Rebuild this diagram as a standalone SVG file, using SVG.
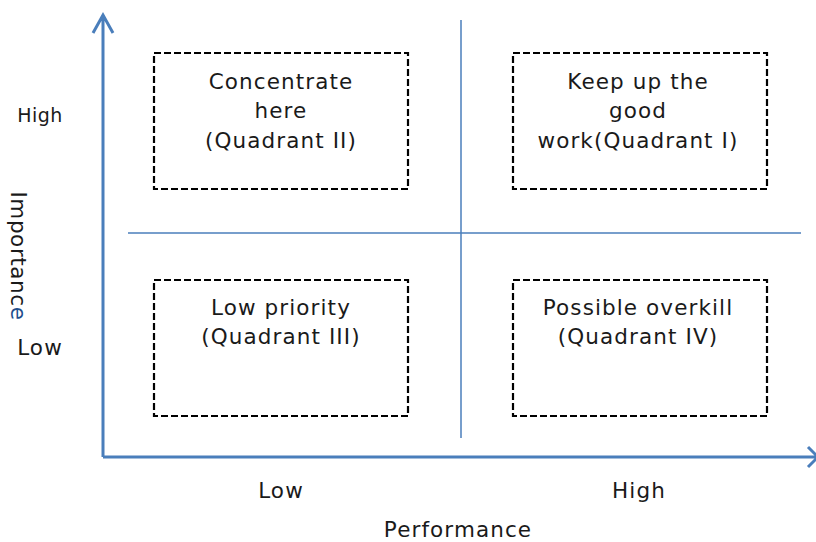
<svg xmlns="http://www.w3.org/2000/svg" width="816" height="542" viewBox="0 0 816 542">
<style>
text{font-family:"DejaVu Sans","Noto Sans",sans-serif;font-size:21.5px;letter-spacing:1.1px;fill:#1a1a1a;text-anchor:middle}
.ax{stroke:#4a7ebb;stroke-width:3;fill:none}
.dv{stroke:#4a7ebb;stroke-width:1.5;fill:none}
.box{fill:#fff;stroke:#000;stroke-width:2.2;stroke-dasharray:7 3}
</style>
<rect width="816" height="542" fill="#fff"/>
<g id="connectors">
<path class="ax" d="M103 457 V16 M93 33 L103 15 L113 33"/>
<path class="ax" d="M103 457 H816 M808 447 L818 457 L808 467"/>
<path class="dv" d="M461 20 V438"/>
<path class="dv" d="M128 233 H801"/>
</g>
<g id="q2"><rect class="box" x="154" y="53" width="254" height="136"/>
<text x="281" y="89">Concentrate</text><text x="281" y="118">here</text><text x="281" y="148">(Quadrant II)</text></g>
<g id="q1"><rect class="box" x="513" y="53" width="254" height="136"/>
<text x="638" y="89">Keep up the</text><text x="638" y="118">good</text><text x="638" y="148">work(Quadrant I)</text></g>
<g id="q3"><rect class="box" x="154" y="280" width="254" height="136"/>
<text x="281" y="315">Low priority</text><text x="281" y="344">(Quadrant III)</text></g>
<g id="q4"><rect class="box" x="513" y="280" width="254" height="136"/>
<text x="638" y="315">Possible overkill</text><text x="638" y="344">(Quadrant IV)</text></g>
<g id="labels">
<text x="40" y="122" style="font-size:19px;letter-spacing:0.4px">High</text>
<text x="40" y="355">Low</text>
<text transform="translate(11 256) rotate(90)" style="letter-spacing:0.6px">Importanc<tspan fill="#1f4e8c">e</tspan></text>
<text x="281" y="498">Low</text>
<text x="639" y="498">High</text>
<text x="458" y="537">Performance</text>
</g>
</svg>
